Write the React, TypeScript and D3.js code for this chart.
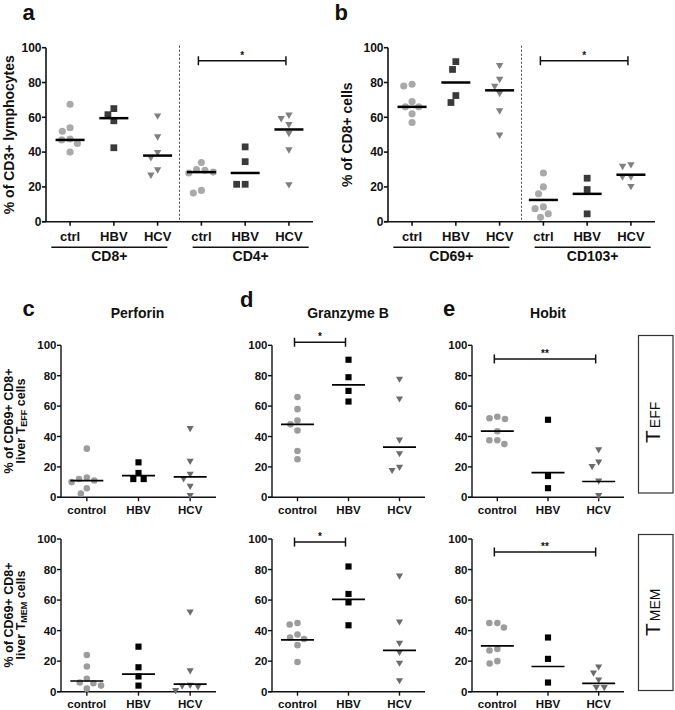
import React from "react";
import * as d3 from "d3";

const FONT = '"Liberation Sans", Arial, Helvetica, sans-serif';

// ---------- Panel a : % of CD3+ lymphocytes ----------
const aCategories = ["ctrl", "HBV", "HCV", "ctrl", "HBV", "HCV"];
const aGroupLabels = ["CD8+", "CD4+"];
const aCd8Ctrl = [67.5, 54, 52, 47.5, 47, 45, 40];
const aCd8Hbv = [65, 61.5, 58, 42.5];
const aCd8Hcv = [61, 49, 40, 37, 30, 27];
const aCd4Ctrl = [34, 30, 29.5, 28.5, 28, 18, 16.5];
const aCd4Hbv = [43, 34.5, 21.5, 21.5];
const aCd4Hcv = [61.5, 59.5, 56, 51, 41.5, 21.5];
const aCenterLines = [47, 59.5, 38, 28.5, 28, 53];

// ---------- Panel b : % of CD8+ cells ----------
const bCategories = ["ctrl", "HBV", "HCV", "ctrl", "HBV", "HCV"];
const bGroupLabels = ["CD69+", "CD103+"];
const bCd69Ctrl = [79, 78, 69, 66, 66, 62, 57];
const bCd69Hbv = [92, 87.5, 72.5, 68.5];
const bCd69Hcv = [90, 82, 78, 74, 64, 50];
const bCd103Ctrl = [28, 20, 16, 8.5, 7.5, 4.5, 2.5];
const bCd103Hbv = [25, 18.5, 4.5];
const bCd103Hcv = [33, 32, 26, 26, 20.5];
const bCenterLines = [66, 80, 75.5, 12.5, 16, 27];

// ---------- Panels c, d, e ----------
const cdeCategories = ["control", "HBV", "HCV"];
const yTicks = [0, 20, 40, 60, 80, 100];

// Perforin
const perfEffControl = [32, 13, 12, 11, 10, 6, 2.5];
const perfEffHbv = [23, 16, 12, 12];
const perfEffHcv = [45.5, 24, 15.5, 12.5, 7.5, 1.5];
const perfEffLines = [11, 14.3, 13.5];
const perfMemControl = [24, 16.5, 8.5, 6, 5.5, 4, 2];
const perfMemHbv = [29.5, 16, 10, 4];
const perfMemHcv = [52.5, 14, 4.5, 4, 3.5, 1];
const perfMemLines = [7, 11.5, 5];

// Granzyme B
const gzbEffControl = [66, 58, 50.5, 48, 44, 30.5, 25];
const gzbEffHbv = [90.5, 79, 70, 63];
const gzbEffHcv = [78, 65, 38, 29, 20, 18];
const gzbEffLines = [48, 74, 33];
const gzbMemControl = [45, 44, 37.5, 35.5, 34.5, 30.5, 19.5];
const gzbMemHbv = [82, 64, 58.5, 43.5];
const gzbMemHcv = [76, 46, 32, 26, 19, 7.5];
const gzbMemLines = [34, 60.5, 27];

// Hobit
const hobEffControl = [53, 52, 51.5, 43.5, 37.5, 37.5, 35];
const hobEffHbv = [51, 14, 6];
const hobEffHcv = [31.5, 23.5, 20.5, 11, 1.5];
const hobEffLines = [43.5, 16.2, 10.4];
const hobMemControl = [45, 45, 42, 28, 27, 20, 18.5];
const hobMemHbv = [35.5, 21.5, 6];
const hobMemHcv = [16.5, 12.5, 8, 3, 3];
const hobMemLines = [30, 16.5, 5.5];

type Shape = "circle" | "square" | "triangle";
const shapes: Shape[] = ["circle", "square", "triangle"];

type Sig = { from: number; to: number; value: number; label: string };

type PanelCfg = {
  x0: number;
  x1: number;
  yBottom: number;
  yTop: number;
  padding: number;
  cats: string[];
  groups: number[][];
  lines: number[];
  colors: Record<Shape, string>;
  markerArea: Record<Shape, number>;
  swarmD: number;
  lineHalf: number;
  lineWidth: number;
  axisWidth: number;
  tickFont: number;
  catFont: number;
  catDy: number;
  sig?: Sig;
  divider?: boolean;
  groupLabels?: string[];
};

function swarm(vals: number[], y: (v: number) => number, D: number) {
  const pts = vals.map((v) => ({ v, py: y(v), dx: 0 }));
  const placed: { v: number; py: number; dx: number }[] = [];
  for (const p of pts) {
    const cands = [0];
    for (const q of placed) {
      const dy = Math.abs(q.py - p.py);
      if (dy < D) {
        const h = Math.sqrt(D * D - dy * dy);
        cands.push(q.dx + h, q.dx - h);
      }
    }
    cands.sort((a, b) => Math.abs(a) - Math.abs(b) || a - b);
    for (const c of cands) {
      if (placed.every((q) => (q.dx - c) ** 2 + (q.py - p.py) ** 2 >= D * D - 0.01)) {
        p.dx = c;
        break;
      }
    }
    placed.push(p);
  }
  return pts;
}

function Panel({ cfg }: { cfg: PanelCfg }) {
  const x = d3
    .scalePoint<number>()
    .domain(d3.range(cfg.cats.length))
    .range([cfg.x0, cfg.x1])
    .padding(cfg.padding);
  const y = d3.scaleLinear().domain([0, 100]).range([cfg.yBottom, cfg.yTop]);
  const sym = (s: Shape) =>
    d3
      .symbol()
      .type(s === "circle" ? d3.symbolCircle : s === "square" ? d3.symbolSquare : d3.symbolTriangle)
      .size(cfg.markerArea[s])();

  const elems: React.ReactNode[] = [];
  elems.push(
    <line key="yax" x1={cfg.x0} x2={cfg.x0} y1={cfg.yBottom} y2={cfg.yTop} stroke="#111" strokeWidth={cfg.axisWidth} />
  );
  elems.push(
    <line key="xax" x1={cfg.x0 - 4} x2={cfg.x1} y1={cfg.yBottom} y2={cfg.yBottom} stroke="#111" strokeWidth={cfg.axisWidth} />
  );
  yTicks.forEach((t) => {
    elems.push(
      <line key={"yt" + t} x1={cfg.x0 - 4} x2={cfg.x0} y1={y(t)} y2={y(t)} stroke="#111" strokeWidth={cfg.axisWidth} />
    );
    elems.push(
      <text key={"yl" + t} x={cfg.x0 - 4.5} y={y(t)} dy="0.36em" textAnchor="end" fontSize={cfg.tickFont} fontWeight="bold" fill="#111">
        {t}
      </text>
    );
  });
  cfg.cats.forEach((c, i) => {
    const cx = x(i)!;
    elems.push(
      <line key={"xt" + i} x1={cx} x2={cx} y1={cfg.yBottom} y2={cfg.yBottom + 4} stroke="#111" strokeWidth={cfg.axisWidth} />
    );
    elems.push(
      <text key={"xl" + i} x={cx} y={cfg.yBottom + cfg.catDy} textAnchor="middle" fontSize={cfg.catFont} fontWeight="bold" fill="#111">
        {c}
      </text>
    );
  });
  if (cfg.divider) {
    const dx = (x(2)! + x(3)!) / 2;
    elems.push(
      <line key="div" x1={dx} x2={dx} y1={cfg.yTop - 2} y2={cfg.yBottom} stroke="#444" strokeWidth={1} strokeDasharray="2,2" />
    );
  }
  if (cfg.groupLabels) {
    cfg.groupLabels.forEach((g, gi) => {
      const a = x(gi * 3)!;
      const b = x(gi * 3 + 2)!;
      const mid = (a + b) / 2 + (gi === 0 ? -4.5 : 5.5);
      elems.push(
        <line key={"gu" + gi} x1={mid - 58} x2={mid + 58} y1={cfg.yBottom + 25.6} y2={cfg.yBottom + 25.6} stroke="#111" strokeWidth={1.5} />
      );
      elems.push(
        <text key={"gl" + gi} x={mid} y={cfg.yBottom + 39} textAnchor="middle" fontSize={14} fontWeight="bold" fill="#111">
          {g}
        </text>
      );
    });
  }
  cfg.groups.forEach((vals, gi) => {
    const s = shapes[gi % 3];
    const pts = swarm(vals, y, cfg.swarmD);
    const path = sym(s);
    pts.forEach((p, pi) => {
      const tx = x(gi)! + p.dx;
      elems.push(
        <path
          key={`p${gi}-${pi}`}
          d={path!}
          transform={`translate(${tx},${p.py})${s === "triangle" ? " rotate(180)" : ""}`}
          fill={cfg.colors[s]}
        />
      );
    });
    const ly = y(cfg.lines[gi]);
    elems.push(
      <line key={"ml" + gi} x1={x(gi)! - cfg.lineHalf} x2={x(gi)! + cfg.lineHalf} y1={ly} y2={ly} stroke="#000" strokeWidth={cfg.lineWidth} />
    );
  });
  if (cfg.sig) {
    const s = cfg.sig;
    const xa = x(s.from)! - 3;
    const xb = x(s.to)! - 3;
    const sy = y(s.value);
    elems.push(<line key="sg" x1={xa} x2={xb} y1={sy} y2={sy} stroke="#111" strokeWidth={1.5} />);
    elems.push(<line key="sga" x1={xa} x2={xa} y1={sy - 4.5} y2={sy + 4.5} stroke="#111" strokeWidth={1.5} />);
    elems.push(<line key="sgb" x1={xb} x2={xb} y1={sy - 4.5} y2={sy + 4.5} stroke="#111" strokeWidth={1.5} />);
    elems.push(
      <text key="sgt" x={(xa + xb) / 2} y={sy - 2} textAnchor="middle" fontSize={10} fontWeight="bold" fill="#111">
        {s.label}
      </text>
    );
  }
  return <g>{elems}</g>;
}

const abColors: Record<Shape, string> = { circle: "#a9a9a9", square: "#3a3a3a", triangle: "#808080" };
const cdeColors: Record<Shape, string> = { circle: "#9c9c9c", square: "#000000", triangle: "#6b6b6b" };
const abArea: Record<Shape, number> = { circle: 40, square: 46, triangle: 24 };
const cdeArea: Record<Shape, number> = { circle: 34, square: 38, triangle: 22 };

const abBase = {
  padding: 0.55,
  yBottom: 221.7,
  yTop: 47.7,
  colors: abColors,
  markerArea: abArea,
  swarmD: 8.5,
  lineHalf: 14.5,
  lineWidth: 2.5,
  axisWidth: 1.6,
  tickFont: 12,
  catFont: 13,
  catDy: 19,
  divider: true,
};

function cdeBase(x0: number, x1: number, top: boolean) {
  return {
    x0,
    x1,
    padding: 0.5,
    yBottom: top ? 497.3 : 691.7,
    yTop: top ? 345.3 : 539,
    cats: cdeCategories,
    colors: cdeColors,
    markerArea: cdeArea,
    swarmD: 8,
    lineHalf: 16.5,
    lineWidth: 1.7,
    axisWidth: 1.4,
    tickFont: 11.5,
    catFont: 11.5,
    catDy: 16.5,
  };
}

const panels: PanelCfg[] = [
  {
    ...abBase,
    x0: 46,
    x1: 313,
    cats: aCategories,
    groups: [aCd8Ctrl, aCd8Hbv, aCd8Hcv, aCd4Ctrl, aCd4Hbv, aCd4Hcv],
    lines: aCenterLines,
    groupLabels: aGroupLabels,
    sig: { from: 3, to: 5, value: 92.5, label: "*" },
  },
  {
    ...abBase,
    x0: 388,
    x1: 655,
    cats: bCategories,
    groups: [bCd69Ctrl, bCd69Hbv, bCd69Hcv, bCd103Ctrl, bCd103Hbv, bCd103Hcv],
    lines: bCenterLines,
    groupLabels: bGroupLabels,
    sig: { from: 3, to: 5, value: 92.5, label: "*" },
  },
  { ...cdeBase(61, 216, true), groups: [perfEffControl, perfEffHbv, perfEffHcv], lines: perfEffLines },
  { ...cdeBase(61, 216, false), groups: [perfMemControl, perfMemHbv, perfMemHcv], lines: perfMemLines },
  {
    ...cdeBase(272, 425, true),
    groups: [gzbEffControl, gzbEffHbv, gzbEffHcv],
    lines: gzbEffLines,
    sig: { from: 0, to: 1, value: 102, label: "*" },
  },
  {
    ...cdeBase(272, 425, false),
    groups: [gzbMemControl, gzbMemHbv, gzbMemHcv],
    lines: gzbMemLines,
    sig: { from: 0, to: 1, value: 98, label: "*" },
  },
  {
    ...cdeBase(472, 624, true),
    groups: [hobEffControl, hobEffHbv, hobEffHcv],
    lines: hobEffLines,
    sig: { from: 0, to: 2, value: 91, label: "**" },
  },
  {
    ...cdeBase(472, 624, false),
    groups: [hobMemControl, hobMemHbv, hobMemHcv],
    lines: hobMemLines,
    sig: { from: 0, to: 2, value: 91.5, label: "**" },
  },
];

function CdeYLabel({ cy, sub }: { cy: number; sub: string }) {
  return (
    <g>
      <text transform={`translate(12.5,${cy}) rotate(-90)`} textAnchor="middle" fontSize={12.5} fontWeight="bold" fill="#111">
        % of CD69+ CD8+
      </text>
      <text transform={`translate(24.5,${cy}) rotate(-90)`} textAnchor="middle" fontSize={12.5} fontWeight="bold" fill="#111">
        liver T
        <tspan fontSize={9} dy={2}>
          {sub}
        </tspan>
        <tspan dy={-2}> cells</tspan>
      </text>
    </g>
  );
}

function SideBox({ y0, h, sub, start }: { y0: number; h: number; sub: string; start: number }) {
  return (
    <g>
      <rect x={638.5} y={y0} width={34.5} height={h} fill="none" stroke="#333" strokeWidth={1.2} />
      <text transform={`translate(659.5,${start}) rotate(-90)`} textAnchor="start" fill="#111">
        <tspan fontSize={21}>T</tspan>
        <tspan fontSize={14} dx={2}>
          {sub}
        </tspan>
      </text>
    </g>
  );
}

export default function App() {
  return (
    <svg
      width={675}
      height={710}
      viewBox="0 0 675 710"
      style={{ position: "absolute", left: 0, top: 0, background: "#fff" }}
      fontFamily={FONT}
    >
      <rect x={0} y={0} width={675} height={710} fill="#fff" />
      {panels.map((p, i) => (
        <Panel key={i} cfg={p} />
      ))}
      <text x={22.5} y={20} fontSize={22} fontWeight="bold" fill="#111">a</text>
      <text x={334.5} y={20} fontSize={22} fontWeight="bold" fill="#111">b</text>
      <text x={22.5} y={316} fontSize={22} fontWeight="bold" fill="#111">c</text>
      <text x={240} y={307} fontSize={22} fontWeight="bold" fill="#111">d</text>
      <text x={443} y={316} fontSize={22} fontWeight="bold" fill="#111">e</text>
      <text x={137.5} y={318} textAnchor="middle" fontSize={14} fontWeight="bold" fill="#111">Perforin</text>
      <text x={348} y={318} textAnchor="middle" fontSize={14} fontWeight="bold" fill="#111">Granzyme B</text>
      <text x={548} y={318} textAnchor="middle" fontSize={14} fontWeight="bold" fill="#111">Hobit</text>
      <text transform="translate(14,134.7) rotate(-90)" textAnchor="middle" fontSize={14} fontWeight="bold" fill="#111">
        % of CD3+ lymphocytes
      </text>
      <text transform="translate(351.5,134.7) rotate(-90)" textAnchor="middle" fontSize={14} fontWeight="bold" fill="#111">
        % of CD8+ cells
      </text>
      <CdeYLabel cy={421} sub="EFF" />
      <CdeYLabel cy={615} sub="MEM" />
      <SideBox y0={335.5} h={157.5} sub="EFF" start={443} />
      <SideBox y0={534.5} h={156} sub="MEM" start={636} />
    </svg>
  );
}
